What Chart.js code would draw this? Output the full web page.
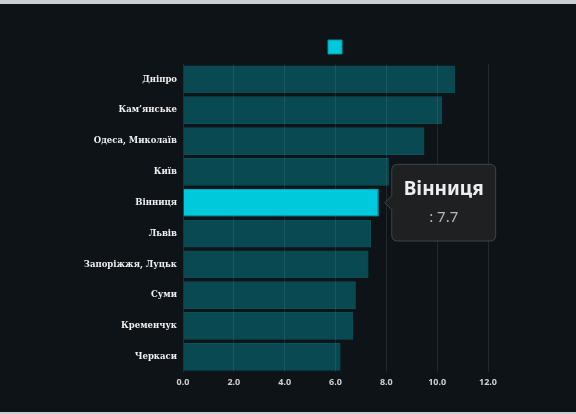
<!DOCTYPE html>
<html>
<head>
<meta charset="utf-8">
<script src="https://cdn.jsdelivr.net/npm/chart.js@4/dist/chart.umd.min.js"></script>
<style>
  html, body { margin: 0; padding: 0; background: #0e1317; overflow: hidden; }
  .wrap { position: relative; width: 576px; height: 414px; }
  .strip { position: absolute; left: 0; width: 576px; background: #cdd0d3; }
  .strip.top { top: 0; height: 4px; }
  .strip.bottom { bottom: 0; height: 2px; }
  canvas { position: absolute; left: 0; top: 0; }
</style>
</head>
<body>
<div class="wrap">
  <canvas id="chart" width="576" height="414"></canvas>
  <div class="strip top"></div>
  <div class="strip bottom"></div>
</div>
<script>
const cities = ['Дніпро', 'Кам\u2019янське', 'Одеса, Миколаїв', 'Київ', 'Вінниця', 'Львів', 'Запоріжжя, Луцьк', 'Суми', 'Кременчук', 'Черкаси'];
const values = [10.7, 10.2, 9.5, 8.1, 7.7, 7.4, 7.3, 6.8, 6.7, 6.2];
const activeIndex = 4;

const cyan = 'rgb(0, 201, 220)';

const ctx = document.getElementById('chart').getContext('2d');
const chart = new Chart(ctx, {
	type: 'bar',
	data: {
		labels: cities,
		datasets: [
			{
				label: '',
				data: values,
				backgroundColor: 'rgba(0, 200, 220, 0.3)',
				borderColor: 'rgba(0, 200, 220, 0.35)',
				borderWidth: 1,
				hoverBackgroundColor: cyan,
				hoverBorderColor: cyan,
				barPercentage: 0.9,
				categoryPercentage: 1,
			},
		],
	},
	options: {
		indexAxis: 'y',
		responsive: false,
		animation: false,
		layout: { padding: { top: 30, right: 88, bottom: 21, left: 0 } },
		plugins: {
			legend: {
				fullSize: false,
				labels: {
					boxWidth: 14,
					boxHeight: 14,
					padding: 10,
					font: { size: 2 },
					generateLabels: (c) => [
						{
							text: '',
							fillStyle: cyan,
							strokeStyle: 'rgba(0, 150, 165, 1)',
							lineWidth: 1,
							datasetIndex: 0,
						},
					],
				},
			},
			tooltip: {
				xAlign: 'left',
				yAlign: 'center',
				backgroundColor: 'rgba(32, 33, 35, 0.96)',
				borderColor: 'rgba(255, 255, 255, 0.18)',
				borderWidth: 1,
				cornerRadius: 6,
				padding: { x: 12, y: 14 },
				caretSize: 7,
				caretPadding: 6,
				displayColors: false,
				titleAlign: 'center',
				bodyAlign: 'center',
				titleColor: '#eeeeee',
				bodyColor: '#b8b8b8',
				titleFont: { family: 'Noto Sans', size: 19, weight: 'bold' },
				bodyFont: { family: 'Noto Sans', size: 15 },
				titleMarginBottom: 8,
				callbacks: {
					label: (item) => item.dataset.label + ': ' + item.formattedValue,
				},
			},
		},
		scales: {
			x: {
				min: 0,
				max: 12,
				grid: { color: 'rgba(255, 255, 255, 0.09)', tickLength: 0 },
				border: { display: false },
				ticks: {
					stepSize: 2,
					padding: 5,
					color: '#d0d0d0',
					font: { family: 'Noto Sans', size: 9, weight: 'bold' },
					callback: (v) => v.toFixed(1),
				},
			},
			y: {
				grid: { display: false, tickLength: 0 },
				border: { display: false },
				afterFit: (scale) => {
					scale.width = 183;
				},
				ticks: {
					padding: 6,
					color: '#f0f0f0',
					font: { family: 'DejaVu Serif', size: 8.5, weight: 'bold' },
				},
			},
		},
	},
});

// show the hovered bar with its tooltip
const meta = chart.getDatasetMeta(0);
const bar = meta.data[activeIndex];
chart.setActiveElements([{ datasetIndex: 0, index: activeIndex }]);
chart.tooltip.setActiveElements([{ datasetIndex: 0, index: activeIndex }], { x: bar.x, y: bar.y });
chart.update();
</script>
</body>
</html>
